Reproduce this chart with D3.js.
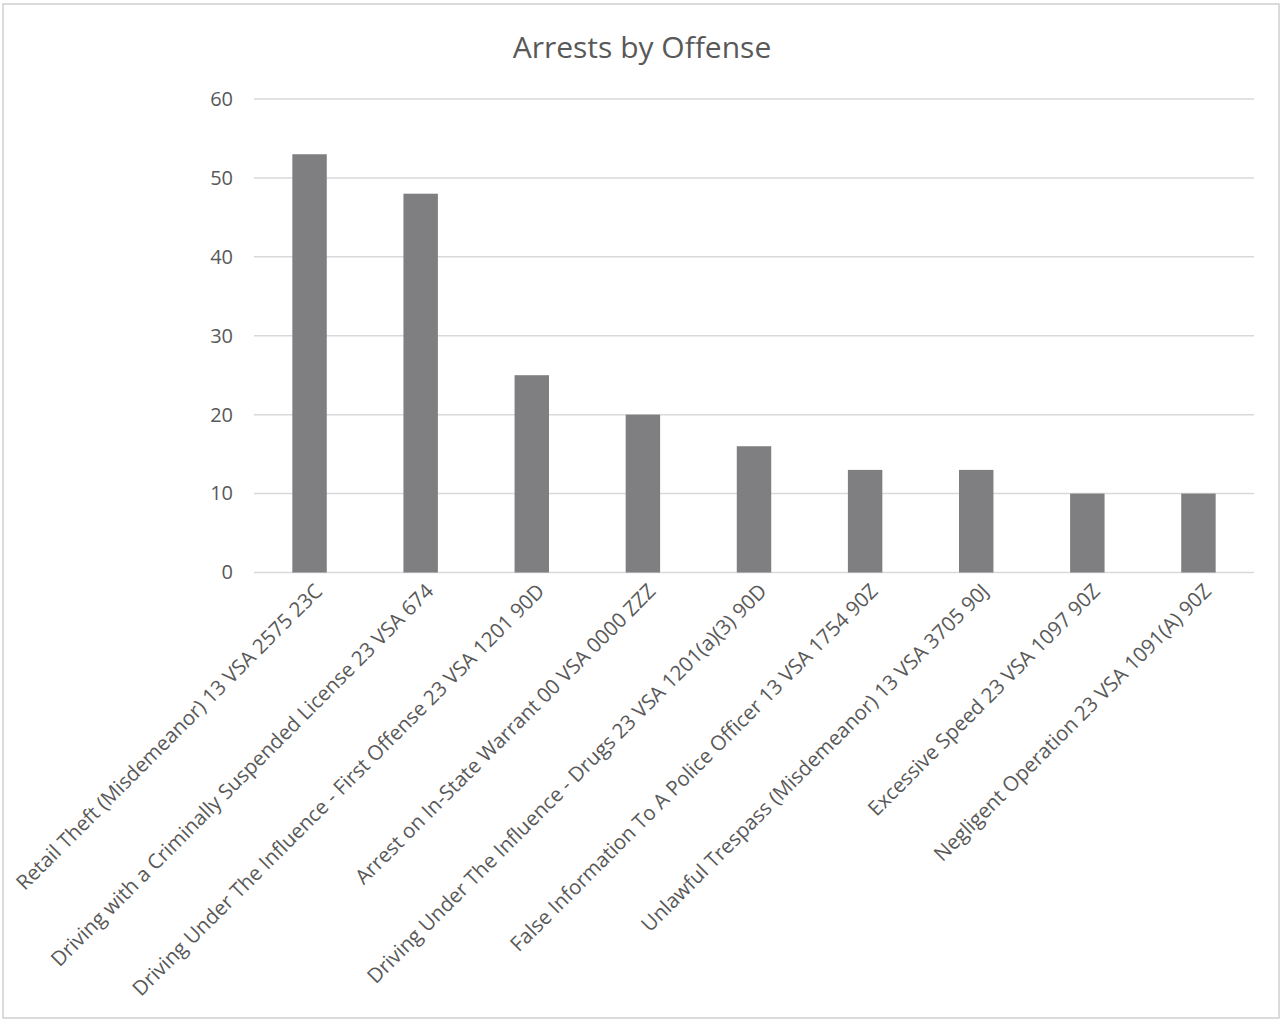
<!DOCTYPE html>
<html><head><meta charset="utf-8">
<script src="https://cdn.jsdelivr.net/npm/d3@7"></script>
<style>body{margin:0;background:#fff}</style>
</head><body>
<svg id="c" width="1283" height="1020"></svg>
<script>
const categories = [
  "Retail Theft (Misdemeanor) 13 VSA 2575 23C",
  "Driving with a Criminally Suspended License 23 VSA 674",
  "Driving Under The Influence - First Offense 23 VSA 1201 90D",
  "Arrest on In-State Warrant 00 VSA 0000 ZZZ",
  "Driving Under The Influence - Drugs 23 VSA 1201(a)(3) 90D",
  "False Information To A Police Officer 13 VSA 1754 90Z",
  "Unlawful Trespass (Misdemeanor) 13 VSA 3705 90J",
  "Excessive Speed 23 VSA 1097 90Z",
  "Negligent Operation 23 VSA 1091(A) 90Z"
];
const values = [53, 48, 25, 20, 16, 13, 13, 10, 10];
const yTicks = [0, 10, 20, 30, 40, 50, 60];
const title = "Arrests by Offense";

const svg = d3.select("#c");
const font = "'Open Sans', sans-serif";
svg.append("rect").attr("x",3).attr("y",4).attr("width",1276).attr("height",1014)
  .attr("fill","#fff").attr("stroke","#d0d0d0").attr("stroke-width",1.5);

const x = d3.scaleBand().domain(categories).range([254,1254]).paddingInner(0.69).paddingOuter(0.345);
const y = d3.scaleLinear().domain([0,60]).range([572.5,99]);

const g = svg.append("g");
g.selectAll("line.grid").data(yTicks).join("line")
  .attr("x1",254).attr("x2",1254).attr("y1",d=>y(d)).attr("y2",d=>y(d))
  .attr("stroke","#d9d9d9").attr("stroke-width",1.5);

const yAxis = d3.axisLeft(y).tickValues(yTicks).tickSize(0).tickPadding(0);
const ya = svg.append("g").attr("transform","translate(233,0)").call(yAxis);
ya.select(".domain").remove();
ya.selectAll("text").attr("font-family",font).attr("font-size",20).attr("fill","#595959").attr("text-anchor","end");

g.selectAll("rect.bar").data(values).join("rect")
  .attr("x",(d,i)=>x(categories[i])).attr("width",x.bandwidth())
  .attr("y",d=>y(d)).attr("height",d=>y(0)-y(d)).attr("fill","#7f7f82");

const xAxis = d3.axisBottom(x).tickSize(0).tickPadding(0);
const xa = svg.append("g").attr("transform","translate(0,572.5)").call(xAxis);
xa.select(".domain").remove();
xa.selectAll("text")
  .attr("font-family",font).attr("font-size",20.5).attr("fill","#595959")
  .attr("text-anchor","end").attr("dy","0")
  .attr("transform","translate(14,20) rotate(-45)");

svg.append("text").attr("x",642).attr("y",58).attr("text-anchor","middle")
  .attr("font-family",font).attr("font-size",30).attr("fill","#595959").text(title);
</script>
</body></html>
